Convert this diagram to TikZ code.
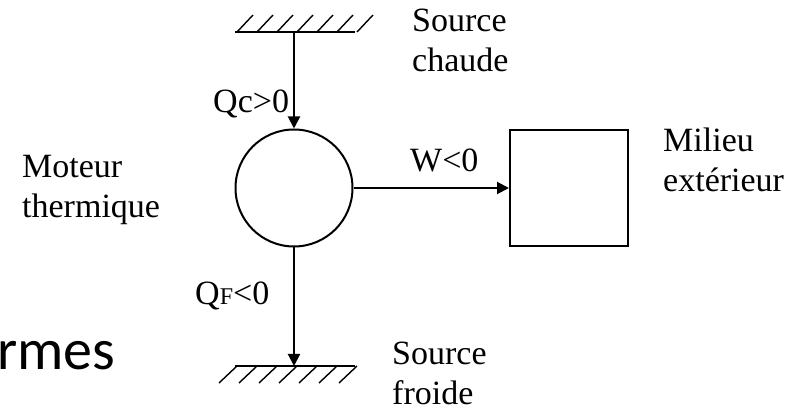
\documentclass[tikz,border=0pt]{standalone}
\usepackage{fontspec}
\setmainfont{Liberation Serif}
\newfontfamily\slidefont{Carlito}
\usetikzlibrary{arrows.meta, positioning}
\newcommand{\lblfont}{\fontsize{34}{40}\selectfont}

\begin{document}
\begin{tikzpicture}[x=1pt, y=-1pt,
    every node/.style={font=\lblfont},
    flow/.style={line width=2pt, -{Triangle[length=12pt, width=12pt]}},
    hatch/.style={line width=1.4pt},
    lbl/.style={anchor=base west, inner sep=0pt, align=left}]
                    \useasboundingbox (0,0) rectangle (798,411);
                    % engine and surroundings
                    \node[
                        circle,
                        draw,
                        line width=2pt,
                        minimum size=117pt,
                        inner sep=0pt
                    ] (engine) at (294,188) {};
                    \node[
                        draw,
                        line width=2pt,
                        minimum width=118pt,
                        minimum height=116pt,
                        inner sep=0pt
                    ] (outside) at (569,188) {};
                    \coordinate (hot) at (294,32);
                    \coordinate (cold) at (294,366);
                    % reservoirs
                    \draw[hatch] (235,32) -- (355,32);
                    \foreach \k in {0,...,6}
                        \draw[hatch] (237+20*\k,32) -- (253+20*\k,15);
                    \draw[hatch] (235,366) -- (355,366);
                    \foreach \k in {0,...,6}
                        \draw[hatch] (237+20*\k,366) -- (219+20*\k,383);
                    % energy flows
                    \draw[flow] (hot) -- (engine.north);
                    \draw[flow] (engine.east) -- (outside.west);
                    \draw[flow] (engine.south) -- (cold);
                    % labels (base = last line)
                    \node[lbl] (qc) at (213,113) {Qc>0};
                    \node[lbl] (qf) at (195,305) {Q{\fontsize{24}{24}\selectfont F}<0};
                    \node[lbl] (w) at (410,172) {W<0};
                    \node[lbl] (enginelbl) at (22,218) {Moteur\\thermique};
                    \node[lbl] (hotlbl) at (412,72) {Source\\chaude};
                    \node[lbl] (coldlbl) at (392,405) {Source\\froide};
                    \node[lbl] (outsidelbl) at (663,192) {Milieu\\extérieur};
                    \node[lbl, font=\slidefont\fontsize{58}{58}\selectfont] (slide) at (-3,370) {rmes};
                \end{tikzpicture}
\end{document}
